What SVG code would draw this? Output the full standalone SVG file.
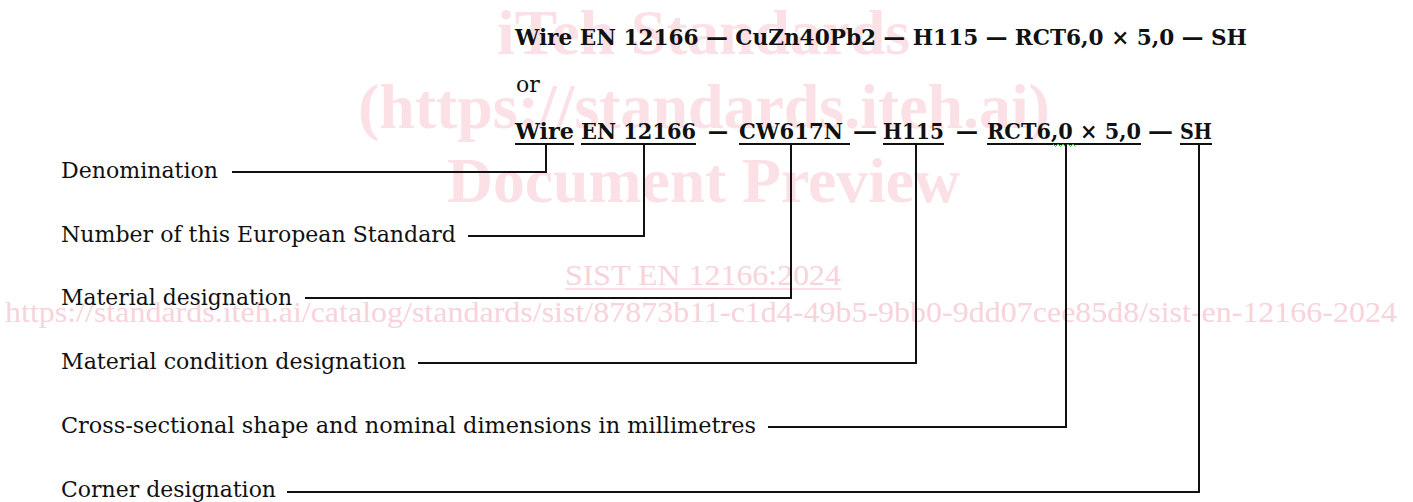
<svg xmlns="http://www.w3.org/2000/svg" width="1413" height="502" viewBox="0 0 1413 502">
<style>
.wm{font-family:"Liberation Serif","Times New Roman",serif;font-weight:bold;font-size:64px;fill:#fbe0e6}
.wm2{font-family:"Liberation Serif","Times New Roman",serif;font-size:30px;fill:#f8d3db}
.code{font-family:"DejaVu Serif","Liberation Serif",serif;font-weight:bold;font-size:23px;fill:#111}
.or{font-family:"DejaVu Serif","Liberation Serif",serif;font-size:22px;fill:#111}
.lbl{font-family:"DejaVu Serif","Liberation Serif",serif;font-size:22px;fill:#111}
.ul{stroke:#111;stroke-width:2;fill:none}
.con{stroke:#111;stroke-width:2;fill:none}
</style>
<rect width="1413" height="502" fill="#ffffff"/>
<g id="watermark">
<text class="wm" x="497" y="54" textLength="413" lengthAdjust="spacingAndGlyphs">iTeh Standards</text>
<text class="wm" x="358" y="128" textLength="692" lengthAdjust="spacingAndGlyphs">(https://standards.iteh.ai)</text>
<text class="wm" x="447" y="202" textLength="513" lengthAdjust="spacingAndGlyphs">Document Preview</text>
<text class="wm2" x="565" y="285" textLength="276" lengthAdjust="spacingAndGlyphs">SIST EN 12166:2024</text>
<line x1="565" y1="289" x2="841" y2="289" stroke="#f8d3db" stroke-width="1.5"/>
<text class="wm2" x="5" y="322" textLength="1392" lengthAdjust="spacingAndGlyphs">https://standards.iteh.ai/catalog/standards/sist/87873b11-c1d4-49b5-9bb0-9dd07cee85d8/sist-en-12166-2024</text>
</g>
<g id="designation-1">
<text class="code" x="515" y="45" textLength="732" lengthAdjust="spacingAndGlyphs">Wire EN 12166 — CuZn40Pb2 — H115 — RCT6,0 × 5,0 — SH</text>
</g>
<g id="or">
<text class="or" x="516" y="92">or</text>
</g>
<g id="designation-2">
<text class="code" x="515" y="139" textLength="59" lengthAdjust="spacingAndGlyphs">Wire</text>
<text class="code" x="581" y="139" textLength="115" lengthAdjust="spacingAndGlyphs">EN 12166</text>
<text class="code" x="708" y="139" textLength="20" lengthAdjust="spacingAndGlyphs">—</text>
<text class="code" x="739" y="139" textLength="104" lengthAdjust="spacingAndGlyphs">CW617N</text>
<text class="code" x="853" y="139" textLength="24" lengthAdjust="spacingAndGlyphs">—</text>
<text class="code" x="883" y="139" textLength="61" lengthAdjust="spacingAndGlyphs">H115</text>
<text class="code" x="956" y="139" textLength="22" lengthAdjust="spacingAndGlyphs">—</text>
<text class="code" x="987" y="139" textLength="154" lengthAdjust="spacingAndGlyphs">RCT6,0 × 5,0</text>
<text class="code" x="1148" y="139" textLength="25" lengthAdjust="spacingAndGlyphs">—</text>
<text class="code" x="1180" y="139" textLength="32" lengthAdjust="spacingAndGlyphs">SH</text>
<g class="ul">
<line x1="515" y1="144" x2="574" y2="144"/>
<line x1="581" y1="144" x2="696" y2="144"/>
<line x1="739" y1="144" x2="850" y2="144"/>
<line x1="883" y1="144" x2="944" y2="144"/>
<line x1="987" y1="144" x2="1141" y2="144"/>
<line x1="1180" y1="144" x2="1212" y2="144"/>
</g>
<path d="M1053,144 l2.5,2.5 l2.5,-2.5 l2.5,2.5 l2.5,-2.5 l2.5,2.5 l2.5,-2.5 l2.5,2.5 l2.5,-2.5 l2.5,2.5" fill="none" stroke="#3cb043" stroke-width="1"/>
</g>
<g id="label-denomination"><text class="lbl" x="61" y="178" textLength="157" lengthAdjust="spacingAndGlyphs">Denomination</text></g>
<g id="label-number"><text class="lbl" x="61" y="242" textLength="395" lengthAdjust="spacingAndGlyphs">Number of this European Standard</text></g>
<g id="label-material"><text class="lbl" x="61" y="305" textLength="231" lengthAdjust="spacingAndGlyphs">Material designation</text></g>
<g id="label-condition"><text class="lbl" x="61" y="369" textLength="345" lengthAdjust="spacingAndGlyphs">Material condition designation</text></g>
<g id="label-shape"><text class="lbl" x="61" y="433" textLength="695" lengthAdjust="spacingAndGlyphs">Cross-sectional shape and nominal dimensions in millimetres</text></g>
<g id="label-corner"><text class="lbl" x="61" y="497" textLength="215" lengthAdjust="spacingAndGlyphs">Corner designation</text></g>
<g id="connectors" class="con">
<polyline points="232,172 546,172 546,145"/>
<polyline points="468,236 644,236 644,145"/>
<polyline points="305,298 791,298 791,145"/>
<polyline points="418,363 916,363 916,145"/>
<polyline points="768,427 1066,427 1066,145"/>
<polyline points="287,492 1199,492 1199,145"/>
</g>
</svg>
